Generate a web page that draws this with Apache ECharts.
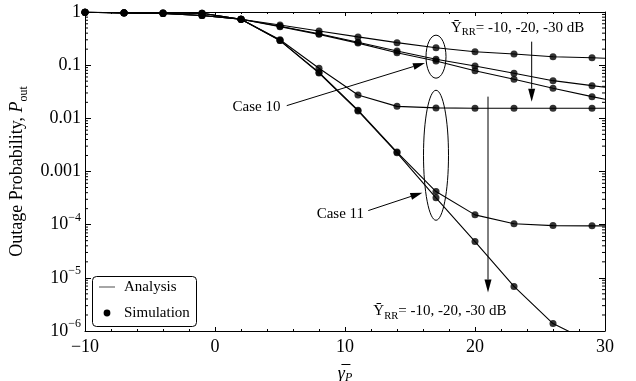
<!DOCTYPE html>
<html>
<head>
<meta charset="utf-8">
<script src="https://cdn.jsdelivr.net/npm/echarts@6/dist/echarts.min.js"></script>
<style>
  html, body { margin: 0; padding: 0; background: #fff; }
  #chart { width: 636px; height: 381px; }
</style>
</head>
<body>
<div id="chart"></div>
<script>
const FONT = '"Liberation Serif", "Times New Roman", serif';

// Average SNR of the primary link (dB), simulation points
const snrDb = [-10, -7, -4, -1, 2, 5, 8, 11, 14, 17, 20, 23, 26, 29];
// the analytical curves run to the right edge of the axis
const snrEnd = 30;

// Case 10, relay residual self-interference -10, -20, -30 dB
const case10Rr10 = [0.99, 0.96, 0.94, 0.86, 0.73, 0.57, 0.44, 0.34, 0.265, 0.213, 0.179, 0.162, 0.144, 0.138];
const case10Rr20 = [0.99, 0.96, 0.94, 0.86, 0.73, 0.54, 0.39, 0.27, 0.185, 0.129, 0.0966, 0.0705, 0.0511, 0.0412];
const case10Rr30 = [0.99, 0.96, 0.94, 0.86, 0.73, 0.53, 0.38, 0.26, 0.171, 0.12, 0.0788, 0.0543, 0.0368, 0.0256];
// Case 11, same three interference levels
const case11Rr10 = [0.99, 0.97, 0.96, 0.95, 0.73, 0.30, 0.0875, 0.0275, 0.0168, 0.0157, 0.0155, 0.0155, 0.0155, 0.0155];
const case11Rr20 = [0.99, 0.97, 0.96, 0.95, 0.73, 0.29, 0.073, 0.0142, 0.00232, 4.2e-4, 1.53e-4, 1.04e-4, 9.6e-5, 9.5e-5];
const case11Rr30 = [0.99, 0.97, 0.96, 0.95, 0.73, 0.29, 0.071, 0.0138, 0.00225, 3.2e-4, 4.8e-5, 6.9e-6, 1.38e-6, 6.0e-7];
// analytical values at snrEnd
const endCase10 = [0.135, 0.0385, 0.0229];
const endCase11 = [0.0155, 9.5e-5, 3.5e-7];

// tick labels
const xTickText = { '-10': '\u221210', '0': '0', '10': '10', '20': '20', '30': '30' };
const yTickText = ['10{sup|\u22126}', '10{sup|\u22125}', '10{sup|\u22124}', '0.001', '0.01', '0.1', '1'];
const yMinorMultiples = [2, 3, 4, 5, 6, 7, 8, 9];
const yDecades = [1e-6, 1e-5, 1e-4, 1e-3, 1e-2, 1e-1];

// legend entries
const legendNames = ['Analysis', 'Simulation'];

const X_MIN = -10, X_MAX = 30, Y_MIN = 1e-6, Y_MAX = 1;

const curves = [
  { sim: case10Rr10, end: endCase10[0] },
  { sim: case10Rr20, end: endCase10[1] },
  { sim: case10Rr30, end: endCase10[2] },
  { sim: case11Rr10, end: endCase11[0] },
  { sim: case11Rr20, end: endCase11[1] },
  { sim: case11Rr30, end: endCase11[2] }
];

const series = [];
curves.forEach(function (c) {
  const pts = snrDb.map(function (x, i) { return [x, c.sim[i]]; });
  series.push({
    name: legendNames[0], type: 'line', data: pts.concat([[snrEnd, c.end]]),
    symbol: 'none', clip: true, color: '#000', z: 3,
    lineStyle: { color: '#000', width: 1.1 }
  });
});
curves.forEach(function (c) {
  const pts = snrDb.map(function (x, i) { return [x, c.sim[i]]; })
    .filter(function (p) { return p[1] >= Y_MIN; });
  series.push({
    name: legendNames[1], type: 'scatter', data: pts, symbol: 'circle',
    symbolSize: 7, color: '#000', z: 4, clip: false,
    itemStyle: { color: '#000' }
  });
});

// minor log ticks on the left and right frame edges
const minorTicks = [];
yDecades.forEach(function (d) {
  yMinorMultiples.forEach(function (m) { minorTicks.push([X_MIN, d * m]); });
});
series.push({
  type: 'custom', silent: true, z: 5,
  data: minorTicks,
  encode: { x: 0, y: 1 },
  renderItem: function (params, api) {
    const v = api.value(1);
    const l = api.coord([X_MIN, v]);
    const r = api.coord([X_MAX, v]);
    return {
      type: 'group',
      children: [
        { type: 'line', shape: { x1: l[0], y1: l[1], x2: l[0] + 3, y2: l[1] }, style: { stroke: '#000', lineWidth: 1 } },
        { type: 'line', shape: { x1: r[0], y1: r[1], x2: r[0] - 3, y2: r[1] }, style: { stroke: '#000', lineWidth: 1 } }
      ]
    };
  }
});

const axisLineStyle = { show: true, onZero: false, lineStyle: { color: '#000', width: 1 } };

const option = {
  animation: false,
  backgroundColor: '#fff',
  grid: { left: 85, right: 31, top: 12, bottom: 50, containLabel: false, outerBoundsMode: 'none' },
  xAxis: [
    {
      type: 'value', min: X_MIN, max: X_MAX, interval: 10, position: 'bottom',
      axisLine: axisLineStyle,
      axisTick: { show: true, inside: true, length: 4, lineStyle: { color: '#000' } },
      minorTick: { show: true, splitNumber: 5, length: 2, lineStyle: { color: '#000' } },
      splitLine: { show: false },
      axisLabel: {
        margin: 7, fontFamily: FONT, fontSize: 18, color: '#000',
        formatter: function (v) { return xTickText[String(v)]; }
      },
      name: '{g|\u03b3\u0305}{sub|P}', nameLocation: 'middle', nameGap: 33,
      nameTextStyle: {
        color: '#000', fontFamily: FONT, fontSize: 18, lineHeight: 20,
        rich: {
          g: { fontFamily: FONT, fontSize: 18, fontStyle: 'italic', lineHeight: 20, color: '#000' },
          sub: { fontFamily: FONT, fontSize: 12, fontStyle: 'italic', verticalAlign: 'bottom', lineHeight: 12, color: '#000' }
        }
      }
    },
    {
      type: 'value', min: X_MIN, max: X_MAX, interval: 10, position: 'top',
      axisLine: axisLineStyle,
      axisTick: { show: true, inside: true, length: 4, lineStyle: { color: '#000' } },
      minorTick: { show: true, splitNumber: 5, length: 2, lineStyle: { color: '#000' } },
      splitLine: { show: false },
      axisLabel: { show: false }
    }
  ],
  yAxis: [
    {
      type: 'log', logBase: 10, min: Y_MIN, max: Y_MAX, splitNumber: 6, position: 'left',
      axisLine: axisLineStyle,
      axisTick: { show: true, inside: true, length: 6, lineStyle: { color: '#000' } },
      splitLine: { show: false },
      axisLabel: {
        margin: 4, fontFamily: FONT, fontSize: 18, color: '#000', lineHeight: 26,
        formatter: function (v) { return yTickText[Math.round(Math.log10(v)) + 6]; },
        rich: {
          sup: { fontFamily: FONT, fontSize: 12, verticalAlign: 'top', lineHeight: 12, color: '#000' }
        }
      },
      name: 'Outage Probability, {i|P}{sub|out}', nameLocation: 'middle', nameGap: 55,
      nameTextStyle: {
        color: '#000', fontFamily: FONT, fontSize: 18, lineHeight: 24,
        rich: {
          i: { fontFamily: FONT, fontSize: 18, fontStyle: 'italic', lineHeight: 24, color: '#000' },
          sub: { fontFamily: FONT, fontSize: 12, verticalAlign: 'bottom', lineHeight: 14, color: '#000' }
        }
      }
    },
    {
      type: 'log', logBase: 10, min: Y_MIN, max: Y_MAX, splitNumber: 6, position: 'right',
      axisLine: axisLineStyle,
      axisTick: { show: true, inside: true, length: 6, lineStyle: { color: '#000' } },
      splitLine: { show: false },
      axisLabel: { show: false }
    }
  ],
  series: series
};

const chart = echarts.init(document.getElementById('chart'), null, { renderer: 'canvas' });
chart.setOption(option);

// ---- annotations, anchored in data space ----
function px(x, y) { return chart.convertToPixel({ xAxisIndex: 0, yAxisIndex: 0 }, [x, y]); }

function arrow(p0, p1, headLen, headW) {
  const dx = p1[0] - p0[0], dy = p1[1] - p0[1];
  const len = Math.hypot(dx, dy);
  const ux = dx / len, uy = dy / len;
  const bx = p1[0] - ux * headLen, by = p1[1] - uy * headLen;
  const nx = -uy, ny = ux;
  return [
    { type: 'line', shape: { x1: p0[0], y1: p0[1], x2: bx, y2: by }, style: { stroke: '#000', lineWidth: 1 }, z: 10 },
    {
      type: 'polygon', z: 10,
      shape: { points: [[p1[0], p1[1]], [bx + nx * headW / 2, by + ny * headW / 2], [bx - nx * headW / 2, by - ny * headW / 2]] },
      style: { fill: '#000' }
    }
  ];
}

function ellipse(c, rx, ry) {
  return { type: 'ellipse', z: 10, shape: { cx: c[0], cy: c[1], rx: rx, ry: ry }, style: { fill: 'none', stroke: '#000', lineWidth: 1 } };
}

function label(p, text, align) {
  return {
    type: 'text', z: 10, x: p[0], y: p[1],
    style: {
      text: text, fill: '#000', font: '15px ' + FONT, align: align || 'left', verticalAlign: 'middle',
      rich: {
        y: { fontFamily: FONT, fontSize: 15, lineHeight: 20, color: '#000' },
        s: { fontFamily: FONT, fontSize: 10.5, verticalAlign: 'bottom', lineHeight: 14, color: '#000' },
        t: { fontFamily: FONT, fontSize: 15, lineHeight: 20, color: '#000' }
      }
    }
  };
}

const rrText = '{y|\u0232}{s|RR}{t|= -10, -20, -30 dB}';

// legend box in the lower-left corner of the plot
const legendBox = [
  { type: 'rect', z: 20, shape: { x: 92.5, y: 276.5, width: 104, height: 50, r: 4 }, style: { fill: '#fff', stroke: '#000', lineWidth: 1 } },
  { type: 'line', z: 21, shape: { x1: 99, y1: 287, x2: 115, y2: 287 }, style: { stroke: '#888', lineWidth: 1.5 } },
  { type: 'circle', z: 21, shape: { cx: 107, cy: 313, r: 3.4 }, style: { fill: '#000' } },
  { type: 'text', z: 21, x: 124, y: 287, style: { text: legendNames[0], fill: '#000', font: '15px ' + FONT, verticalAlign: 'middle' } },
  { type: 'text', z: 21, x: 124, y: 313, style: { text: legendNames[1], fill: '#000', font: '15px ' + FONT, verticalAlign: 'middle' } }
];

const graphics = [].concat(
  [ellipse(px(17, 0.1445), 10, 21.5)],
  [ellipse(px(17, 2.02e-3), 12.5, 65)],
  [label(px(3.19, 0.0162), 'Case 10', 'center')],
  arrow(px(5.52, 0.01733), px(16.15, 0.11), 12, 7),
  [label(px(9.64, 1.57e-4), 'Case 11', 'center')],
  arrow(px(11.79, 1.84e-4), px(15.95, 4.0e-4), 12, 7),
  [label(px(18.15, 0.5), rrText, 'left')],
  arrow(px(24.36, 0.277), px(24.36, 0.0206), 13, 7),
  [label(px(12.18, 2.33e-6), rrText, 'left')],
  arrow(px(21.0, 0.0256), px(21.0, 5.3e-6), 13, 7),
  legendBox
);

chart.setOption({ graphic: graphics });
</script>
</body>
</html>
